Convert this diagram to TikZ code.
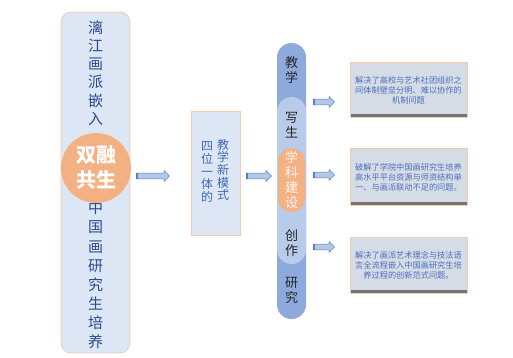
\documentclass[tikz,border=0pt]{standalone}
\usepackage{fontspec}
\setmainfont{Noto Sans CJK SC}
\usetikzlibrary{shapes.arrows}
\definecolor{panelfill}{HTML}{DCE6F4}
\definecolor{panelline}{HTML}{F8CBAD}
\definecolor{navy}{HTML}{2E4A8E}
\definecolor{midblue}{HTML}{4068B8}
\definecolor{orangef}{HTML}{F4B183}
\definecolor{pilldark}{HTML}{8EA9DB}
\definecolor{pilllight}{HTML}{B9CBEA}
\definecolor{boxfill}{HTML}{D6DCE5}
\definecolor{arrfill}{HTML}{B4C7E7}
\definecolor{arrline}{HTML}{5A7EC2}
\definecolor{txtblue}{HTML}{4A6EBE}
\begin{document}
\begin{tikzpicture}[x=1pt,y=-1pt,
  panel/.style={draw=panelline, fill=panelfill, line width=0.8pt},
  vtext/.style={align=center, inner sep=0pt, text width=20pt},
  blockarrow/.style={single arrow, draw=arrline, fill=arrfill, line width=0.6pt,
    single arrow head extend=2.5pt, single arrow head indent=0pt,
    inner xsep=0pt, inner ysep=2.6pt, minimum height=#1,
    path picture={\fill[arrline] (path picture bounding box.south west) rectangle ([xshift=2pt]path picture bounding box.north west);}},
  resbox/.style={draw=panelline, fill=boxfill, line width=0.6pt, minimum width=117pt, minimum height=#1,
    inner sep=0pt,
    path picture={\fill[black!55] (path picture bounding box.south west) rectangle ([yshift=3pt]path picture bounding box.south east);}},
  restext/.style={align=center, text=txtblue, font=\fontsize{8.2}{10}\selectfont, inner sep=0pt},
  pilltext/.style={vtext, text=black!85, font=\fontsize{13}{15}\selectfont}
]
\useasboundingbox (0,0) rectangle (513,357);
% left panel
\node[panel, rounded corners=10pt, minimum width=69pt, minimum height=341pt] (left) at (95.5,182.5) {};
\node[vtext, text=navy, font=\fontsize{15}{18.2}\selectfont] (ltop) at (95.5,73) {漓\\江\\画\\派\\嵌\\入};
\node[vtext, text=navy, font=\fontsize{15}{19.1}\selectfont] (lbot) at (95.5,275) {中\\国\\画\\研\\究\\生\\培\\养};
\node[circle, fill=orangef, minimum size=70pt, inner sep=0pt, align=center, text=white,
  font=\bfseries\fontsize{20}{25}\selectfont] (core) at (96,168) {双融\\共生};
% middle box
\node[panel, minimum width=49pt, minimum height=124pt] (mid) at (215.5,173) {};
\node[vtext, text width=14pt, text=midblue, font=\fontsize{12}{12.6}\selectfont] (mid1) at (207,172) {四\\位\\一\\体\\的};
\node[vtext, text width=14pt, text=midblue, font=\fontsize{12}{12.6}\selectfont] (mid2) at (223,170) {教\\学\\新\\模\\式};
% arrows left
\node[blockarrow=33pt] (a1) at (151.5,176) {};
\node[blockarrow=25pt] (a2) at (257.5,176) {};
% pillar
\node[fill=pilldark, rounded corners=14.5pt, minimum width=29pt, minimum height=276pt, inner sep=0pt] (pillar) at (291.5,181) {};
\node[fill=pilllight, rounded corners=14.5pt, minimum width=29pt, minimum height=167pt, inner sep=0pt] (light) at (291.5,180.5) {};
\node[fill=orangef, rounded corners=13.5pt, minimum width=27pt, minimum height=64pt, inner sep=0pt] (subj) at (291.5,180) {};
\node[pilltext] (t1) at (291.5,70) {教\\学};
\node[pilltext] (t2) at (291.5,125.5) {写\\生};
\node[vtext, text=white!92!orangef, font=\fontsize{13}{15}\selectfont] (t3) at (291.5,180.5) {学\\科\\建\\设};
\node[pilltext] (t4) at (291.5,243.5) {创\\作};
\node[pilltext] (t5) at (291.5,290) {研\\究};
% right arrows
\node[blockarrow=21pt] (r1) at (322.5,102) {};
\node[blockarrow=21pt] (r2) at (322.5,175) {};
\node[blockarrow=21pt] (r3) at (322.5,247) {};
% result boxes
\node[resbox=55pt] (b1) at (408.5,89.5) {};
\node[restext] (b1t) at (408.5,90) {解决了高校与艺术社团组织之\\间体制壁垒分明、难以协作的\\机制问题};
\node[resbox=57pt] (b2) at (408.5,176.5) {};
\node[restext] (b2t) at (408.5,177) {破解了学院中国画研究生培养\\高水平平台资源与师资结构单\\一、与画派联动不足的问题。};
\node[resbox=56pt] (b3) at (408.5,265) {};
\node[restext] (b3t) at (408.5,265) {解决了画派艺术理念与技法语\\言全流程嵌入中国画研究生培\\养过程的创新范式问题。};
\end{tikzpicture}
\end{document}
